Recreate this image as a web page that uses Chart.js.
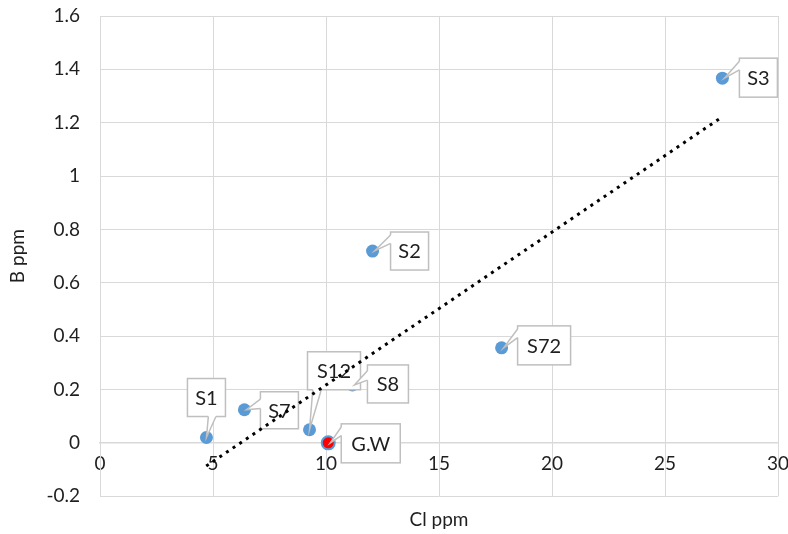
<!DOCTYPE html>
<html>
<head>
<meta charset="utf-8">
<script src="https://cdn.jsdelivr.net/npm/chart.js@4.4.1/dist/chart.umd.min.js"></script>
<style>
  html, body { margin: 0; padding: 0; background: #ffffff; }
  #wrap { width: 788px; height: 534px; }
</style>
</head>
<body>
<div id="wrap"><canvas id="c" width="788" height="534"></canvas></div>
<script>
// ---- data ----
const pointNames = ['S1', 'S7', 'S12', 'S8', 'G.W', 'S2', 'S72', 'S3'];
const clValues   = [4.71, 6.39, 9.27, 11.17, 10.1, 12.06, 17.77, 27.54];
const bValues    = [0.02, 0.124, 0.049, 0.217, 0.0, 0.719, 0.356, 1.367];
const trendX     = [4.7, 27.5];
const trendY     = [-0.087, 1.22];
const xTitle = 'Cl ppm';
const yTitle = 'B ppm';

// ---- callout layout (style only): box offset from point, size, wedge side & base fractions ----
const calloutLayout = {
  'S1':  { dx: -19, dy: -59, w: 38, h: 38, side: 'bottom', f0: 0.55, f1: 0.75 },
  'S7':  { dx: 16,  dy: -18, w: 38, h: 37, side: 'left',   f0: 0.20, f1: 0.45 },
  'S12': { dx: -2,  dy: -78, w: 53, h: 38, side: 'bottom', f0: 0.10, f1: 0.26 },
  'S8':  { dx: 15,  dy: -20, w: 41, h: 38, side: 'left',   f0: 0.15, f1: 0.40 },
  'G.W': { dx: 13,  dy: -19, w: 59, h: 39, side: 'left',   f0: 0.08, f1: 0.30 },
  'S2':  { dx: 18,  dy: -19, w: 38, h: 38, side: 'left',   f0: 0.08, f1: 0.30 },
  'S72': { dx: 16,  dy: -22, w: 53, h: 39, side: 'left',   f0: 0.08, f1: 0.30 },
  'S3':  { dx: 17,  dy: -20, w: 38, h: 39, side: 'left',   f0: 0.08, f1: 0.30 }
};

const FONT = 'Lato, Carlito, "Liberation Sans", sans-serif';
const GRID = '#d9d9d9';
const TEXT = '#1f1f1f';
const BLUE = '#5b9bd5';

const points = clValues.map((x, i) => ({ x: x, y: bValues[i], name: pointNames[i] }));
const trend = trendX.map((x, i) => ({ x: x, y: trendY[i] }));

const calloutPlugin = {
  id: 'callouts',
  beforeDatasetDraw(chart, args) {
    if (args.index !== 0) return;
    const ctx = chart.ctx;
    const meta = chart.getDatasetMeta(1);
    ctx.save();
    meta.data.forEach((el, i) => {
      const name = pointNames[i];
      const L = calloutLayout[name];
      if (!L) return;
      const px = el.x, py = el.y;
      const bx = px + L.dx, by = py + L.dy;
      ctx.fillStyle = '#ffffff';
      ctx.strokeStyle = '#bfbfbf';
      ctx.lineWidth = 1.5;
      ctx.fillRect(bx, by, L.w, L.h);
      ctx.strokeRect(bx, by, L.w, L.h);
      let a, b, ai, bi;
      if (L.side === 'left') {
        a = [bx, by + L.h * L.f0]; b = [bx, by + L.h * L.f1];
        ai = [bx + 2, a[1]]; bi = [bx + 2, b[1]];
      } else {
        a = [bx + L.w * L.f0, by + L.h]; b = [bx + L.w * L.f1, by + L.h];
        ai = [a[0], by + L.h - 2]; bi = [b[0], by + L.h - 2];
      }
      const tip = [L.side === 'left' ? px + 2 : px, py];
      ctx.beginPath();
      ctx.moveTo(ai[0], ai[1]);
      ctx.lineTo(a[0], a[1]);
      ctx.lineTo(tip[0], tip[1]);
      ctx.lineTo(b[0], b[1]);
      ctx.lineTo(bi[0], bi[1]);
      ctx.closePath();
      ctx.fill();
      ctx.beginPath();
      ctx.moveTo(a[0], a[1]);
      ctx.lineTo(tip[0], tip[1]);
      ctx.lineTo(b[0], b[1]);
      ctx.stroke();
      ctx.fillStyle = TEXT;
      ctx.font = '20px ' + FONT;
      ctx.textAlign = 'center';
      ctx.textBaseline = 'middle';
      ctx.fillText(name, bx + L.w / 2, by + L.h / 2 + 1);
    });
    ctx.restore();
  }
};

new Chart(document.getElementById('c'), {
  type: 'scatter',
  data: {
    datasets: [
      {
        type: 'line',
        label: 'trend',
        data: trend,
        showLine: true,
        borderColor: '#000000',
        borderWidth: 3,
        borderDash: [3, 5],
        pointRadius: 0,
        fill: false,
        xAxisID: 'x',
        yAxisID: 'y'
      },
      {
        label: 'B',
        data: points,
        pointRadius: 6.5,
        pointBackgroundColor: points.map(p => p.name === 'G.W' ? '#ff0000' : BLUE),
        pointBorderColor: BLUE,
        pointBorderWidth: points.map(p => p.name === 'G.W' ? 2 : 0),
        xAxisID: 'x',
        yAxisID: 'y'
      }
    ]
  },
  options: {
    responsive: false,
    animation: false,
    events: [],
    layout: { padding: { top: 0, right: 10, left: 0, bottom: 0 } },
    plugins: {
      legend: { display: false },
      tooltip: { enabled: false }
    },
    scales: {
      x: {
        type: 'linear',
        position: { y: 0 },
        min: 0, max: 30,
        ticks: { stepSize: 5, padding: 10, color: TEXT, font: { family: FONT, size: 19 }, maxRotation: 0 },
        grid: { color: GRID, lineWidth: 1, drawTicks: false },
        border: { display: true, color: GRID, width: 1.5 },
        afterFit: s => { s.height = 0; s.paddingLeft = 0; s.paddingRight = 0; }
      },
      xt: {
        type: 'linear',
        position: 'bottom',
        axis: 'x',
        min: 0, max: 30,
        ticks: { display: false },
        grid: { display: false },
        border: { display: false },
        title: { display: true, text: xTitle, color: TEXT, font: { family: FONT, size: 19 }, padding: { top: 4, bottom: 3 } }
      },
      y: {
        type: 'linear',
        position: 'left',
        min: -0.2, max: 1.6,
        ticks: {
          stepSize: 0.2, padding: 20, color: TEXT, font: { family: FONT, size: 19 },
          callback: v => String(Number(v.toFixed(1)))
        },
        grid: { color: GRID, lineWidth: 1, drawTicks: false },
        border: { display: true, color: GRID, width: 1 },
        title: { display: true, text: yTitle, color: TEXT, font: { family: FONT, size: 19 }, padding: { top: 6, bottom: 10 } },
        afterFit: s => { s.width = 100; s.paddingTop = 16; s.paddingBottom = 0; }
      }
    }
  },
  plugins: [calloutPlugin]
});
</script>
</body>
</html>
